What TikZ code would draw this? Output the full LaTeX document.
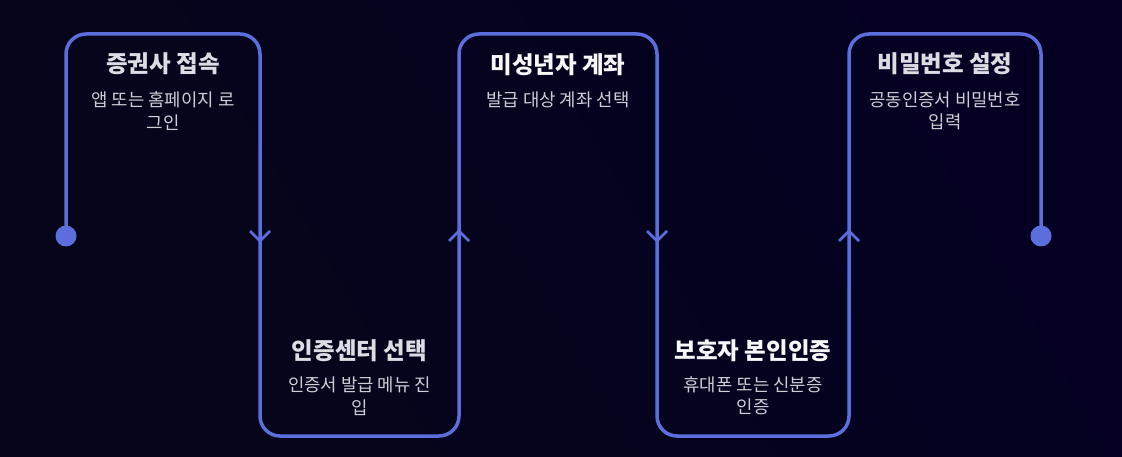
\documentclass[tikz,border=0pt]{standalone}
\usepackage{fontspec}
\setmainfont{Noto Sans CJK KR}
\definecolor{bgA}{HTML}{06061A}
\definecolor{bgB}{HTML}{050022}
\definecolor{ln}{HTML}{5B6EDB}
\definecolor{ttlg}{HTML}{DCDCE4}
\definecolor{ttlw}{HTML}{F8F8FC}
\definecolor{subc}{HTML}{CDCDD6}
\tikzset{
  flow/.style={draw=ln, line width=3.5pt, rounded corners=20pt},
  chev/.style={draw=ln, line width=2.6pt},
  enddot/.style={circle, fill=ln, inner sep=0pt, minimum size=21pt},
  ttl/.style={font=\fontsize{23.5}{26}\selectfont\bfseries, text=ttlg, inner sep=0pt},
  ttlhi/.style={ttl, text=ttlw},
  subt/.style={font=\fontsize{17.8}{22.5}\selectfont, text=subc, align=center, inner sep=0pt}
}
\begin{document}
\begin{tikzpicture}[x=1pt,y=-1pt]
\shade[left color=bgA, right color=bgB, shading angle=120] (0,0) rectangle (1122,457);
\useasboundingbox (0,0) rectangle (1122,457);
% corner coordinates
\coordinate (s) at (66,236);
\coordinate (c1) at (66,34);
\coordinate (c2) at (260,34);
\coordinate (c3) at (260,436);
\coordinate (c4) at (459,436);
\coordinate (c5) at (459,34);
\coordinate (c6) at (657,34);
\coordinate (c7) at (657,436);
\coordinate (c8) at (849,436);
\coordinate (c9) at (849,34);
\coordinate (c10) at (1041,34);
\coordinate (e) at (1041,236);
\draw[flow] (s) -- (c1) -- (c2) -- (c3) -- (c4) -- (c5) -- (c6) -- (c7) -- (c8) -- (c9) -- (c10) -- (e);
\node[enddot] (sd) at (s) {};
\node[enddot] (ed) at (e) {};
% chevrons
\coordinate (d1) at (260,241);
\coordinate (d2) at (657,241);
\coordinate (u1) at (459,231);
\coordinate (u2) at (849,231);
\foreach \p in {d1,d2}{
  \draw[chev] ([shift={(-10,-10)}]\p) -- (\p) -- ([shift={(10,-10)}]\p);
}
\foreach \p in {u1,u2}{
  \draw[chev] ([shift={(-10,10)}]\p) -- (\p) -- ([shift={(10,10)}]\p);
}
% texts
\node[ttl] (t1) at (163,64) {증권사 접속};
\node[subt] (s1) at (163,111) {앱 또는 홈페이지 로\\그인};
\node[ttl] (t2) at (359.5,351) {인증센터 선택};
\node[subt] (s2) at (359.5,396) {인증서 발급 메뉴 진\\입};
\node[ttlhi] (t3) at (558,65) {미성년자 계좌};
\node[subt] (s3) at (558,100) {발급 대상 계좌 선택};
\node[ttlhi] (t4) at (753,351) {보호자 본인인증};
\node[subt] (s4) at (753,396) {휴대폰 또는 신분증\\인증};
\node[ttl] (t5) at (945,64) {비밀번호 설정};
\node[subt] (s5) at (945,111) {공동인증서 비밀번호\\입력};
\end{tikzpicture}
\end{document}
